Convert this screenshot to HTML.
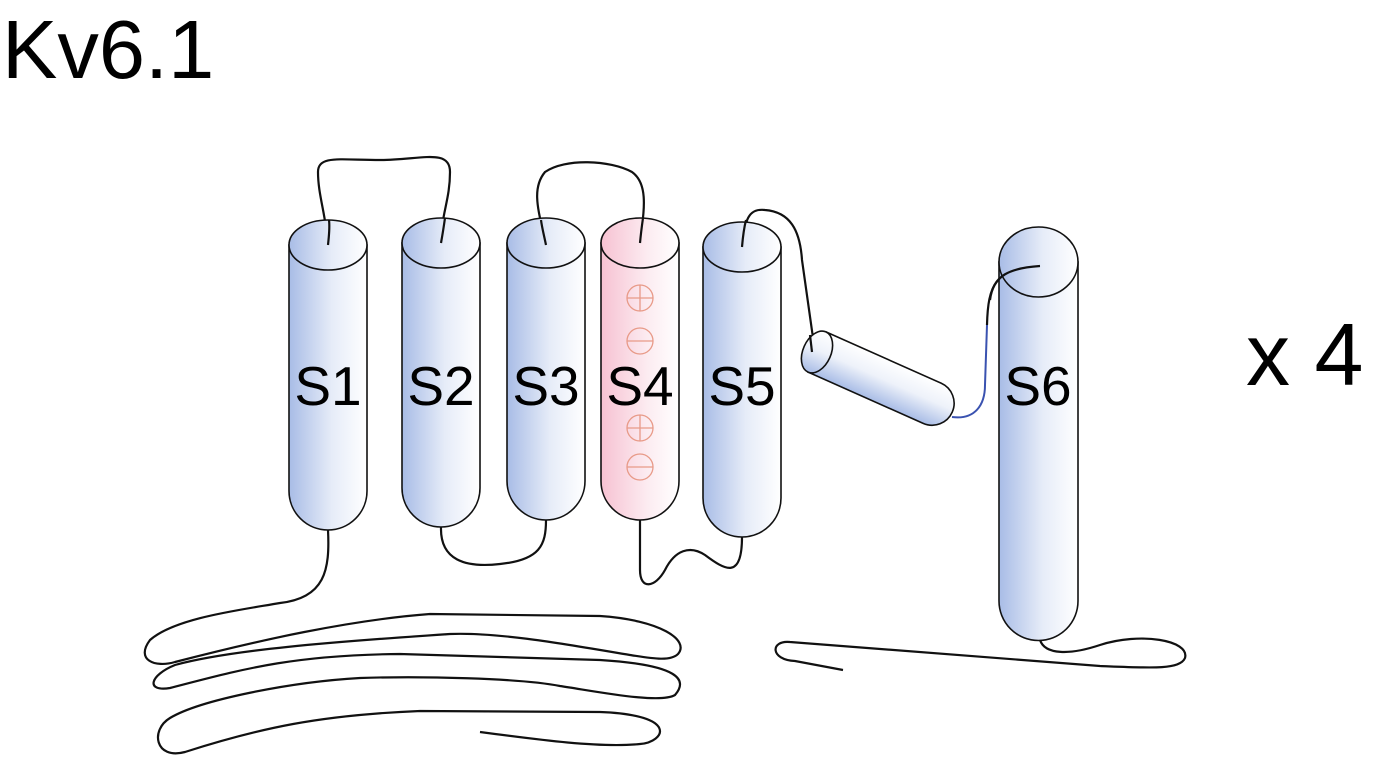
<!DOCTYPE html>
<html><head><meta charset="utf-8"><style>
html,body{margin:0;padding:0;background:#fff;}
svg{display:block;}
text{font-family:"Liberation Sans",Arial,sans-serif;}
</style></head><body>
<svg width="1382" height="759" viewBox="0 0 1382 759" xmlns="http://www.w3.org/2000/svg">
<defs>
<linearGradient id="b" x1="0" y1="0" x2="1" y2="0"><stop offset="0" stop-color="#a8bce6"/><stop offset="0.55" stop-color="#e6ecf8"/><stop offset="1" stop-color="#ffffff"/></linearGradient>
<linearGradient id="p" x1="0" y1="0" x2="1" y2="0"><stop offset="0" stop-color="#f7c2d2"/><stop offset="0.6" stop-color="#fcecf1"/><stop offset="1" stop-color="#ffffff"/></linearGradient>
<linearGradient id="h" x1="0" y1="0" x2="0" y2="1"><stop offset="0" stop-color="#ffffff"/><stop offset="0.45" stop-color="#eef2fa"/><stop offset="1" stop-color="#a8bce6"/></linearGradient>
</defs>
<text x="2" y="78" font-size="83">Kv6.1</text>
<text x="1246" y="385" font-size="88">x 4</text>

<g fill="none" stroke="#111" stroke-width="2.2">
<path d="M328,245 C326,215 318,195 318,172 C318,155 340,160 380,160 C420,160 450,148 450,172 C450,200 441,215 441,243"/>
<path d="M546,245 C540,215 530,190 545,172 C565,158 610,160 632,172 C650,185 643,215 640,243"/>
<path d="M742,247 C745,220 748,208 765,210 C790,212 800,230 802,260 L815,352"/>
<path d="M328,530 C330,570 325,598 280,603 C240,610 175,618 150,640 C135,660 155,668 175,662 C260,640 350,620 430,614 L600,616 C660,620 690,640 678,654 C670,662 650,658 630,655 C570,645 500,632 450,634 C330,642 230,650 175,665 C150,675 145,692 170,688 C240,670 290,655 400,654 L600,660 C680,665 688,680 675,695 C660,704 600,692 560,686 C520,678 420,676 360,678 C290,682 200,700 170,718 C150,730 155,760 185,752 C260,728 320,715 420,711 L600,712 C680,715 665,742 640,744 C600,748 540,740 480,732"/>
<path d="M441,527 C440,560 465,568 500,564 C540,560 546,545 546,520"/>
<path d="M640,520 L640,570 C640,590 655,588 665,570 C675,550 690,545 705,555 C725,570 742,580 742,537"/>
<path d="M987,325 C988,285 995,268 1040,266"/>
<path d="M1040,640 C1045,655 1070,655 1100,645 C1140,632 1190,640 1185,658 C1180,670 1150,668 1100,666 L790,642 C770,640 770,660 795,661 L843,670"/>
</g>
<path d="M952,417 C975,420 985,405 985,385 L987,325" fill="none" stroke="#3a52b0" stroke-width="2"/>

<g stroke="#111" stroke-width="1.6">
<path d="M289,245 L289,491 A39,39 0 0 0 367,491 L367,245 Z" fill="url(#b)"/>
<ellipse cx="328" cy="245" rx="39" ry="25" fill="url(#b)"/>
<path d="M402,243 L402,488 A39,39 0 0 0 480,488 L480,243 Z" fill="url(#b)"/>
<ellipse cx="441" cy="243" rx="39" ry="25" fill="url(#b)"/>
<path d="M507,243 L507,481 A39,39 0 0 0 585,481 L585,243 Z" fill="url(#b)"/>
<ellipse cx="546" cy="243" rx="39" ry="25" fill="url(#b)"/>
<path d="M601,243 L601,481 A39,39 0 0 0 679,481 L679,243 Z" fill="url(#p)"/>
<ellipse cx="640" cy="243" rx="39" ry="25" fill="url(#p)"/>
<path d="M703,247 L703,498 A39,39 0 0 0 781,498 L781,247 Z" fill="url(#b)"/>
<ellipse cx="742" cy="247" rx="39" ry="25" fill="url(#b)"/>
<path d="M999,262 L999,601 A39.5,39.5 0 0 0 1078,601 L1078,262 Z" fill="url(#b)"/>
<ellipse cx="1038.5" cy="262" rx="39.5" ry="35" fill="url(#b)"/>
<g transform="translate(817,352) rotate(24)">
<path d="M0,-22 L126,-22 A22,22 0 0 1 126,22 L0,22 Z" fill="url(#h)"/>
<ellipse cx="0" cy="0" rx="14" ry="22" fill="url(#h)"/>
</g>
</g>
<g fill="none" stroke="#111" stroke-width="2.2">
<path d="M328,245 C329,235 330,228 329,220"/>
<path d="M441,243 C443,232 444,225 445,218"/>
<path d="M546,245 C544,235 542,228 541,220"/>
<path d="M640,243 C641,232 642,225 643,218"/>
<path d="M742,247 C743,235 744,228 746,220"/>
<path d="M812,352 L810,335"/>
<path d="M1040,266 C1010,268 993,275 990,300"/>
</g>

<g fill="none" stroke="#e89a88" stroke-width="1.3">
<circle cx="640" cy="298" r="13"/><path d="M627,298 H653 M640,285 V311"/>
<circle cx="640" cy="341" r="13"/><path d="M627,341 H653"/>
<circle cx="640" cy="428" r="13"/><path d="M627,428 H653 M640,415 V441"/>
<circle cx="640" cy="467" r="13"/><path d="M627,467 H653"/>
</g>

<g font-size="55" text-anchor="middle" fill="#000">
<text x="328" y="405">S1</text>
<text x="441" y="405">S2</text>
<text x="546" y="405">S3</text>
<text x="640" y="405">S4</text>
<text x="742" y="405">S5</text>
<text x="1038" y="405">S6</text>
</g>
</svg>
</body></html>
